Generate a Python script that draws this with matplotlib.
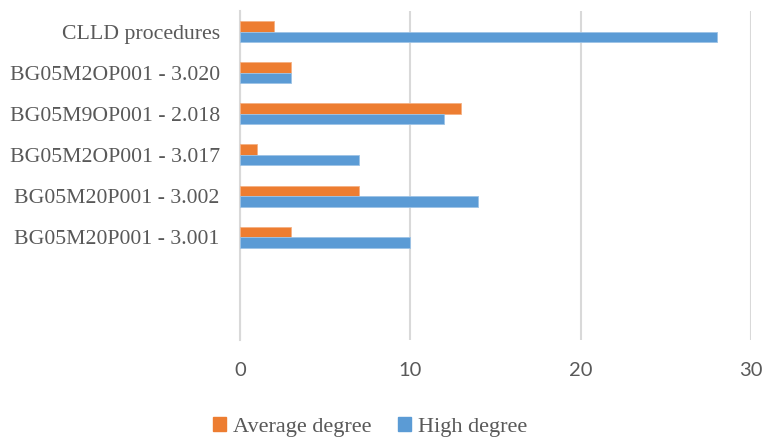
import numpy as np
import matplotlib
matplotlib.use("Agg")
import matplotlib.pyplot as plt
from matplotlib.patches import Patch

# data, top to bottom
categories = ["CLLD procedures", "BG05M2OP001 - 3.020", "BG05M9OP001 - 2.018",
              "BG05M2OP001 - 3.017", "BG05M20P001 - 3.002", "BG05M20P001 - 3.001"]
average = [2, 3, 13, 1, 7, 3]
high = [28, 3, 12, 7, 14, 10]
xticks = [0, 10, 20, 30]
n_slots = 8  # the original axis leaves two empty category slots below

orange = "#ED7D31"
blue = "#5B9BD5"
txt = "#595959"
serif = ["Liberation Serif", "DejaVu Serif"]

fig = plt.figure(figsize=(7.64, 4.38), dpi=100)
ax = fig.add_axes([240/764, 1-340/438, (751-240)/764, (340-11)/438])

y = np.arange(len(categories))
h = 0.255
ax.barh(y - h/2, average, height=h, color=orange, edgecolor="#F4B183", linewidth=0.6, zorder=3)
ax.barh(y + h/2, high, height=h, color=blue, edgecolor="#9DC3E6", linewidth=0.6, zorder=3)

ax.set_ylim(n_slots - 0.5, -0.5)
ax.set_xlim(0, 30)
ax.set_xticks(xticks)
ax.set_xticklabels([str(t) for t in xticks], fontfamily="Lato", fontsize=14.5, color=txt)
ax.set_yticks(y)
ax.set_yticklabels(categories, fontfamily=serif, fontsize=15.7, color=txt)
ax.tick_params(axis="both", length=0)
ax.tick_params(axis="x", pad=16)
ax.tick_params(axis="y", pad=14.5)

ax.grid(axis="x", color="#D9D9D9", linewidth=1.5, zorder=0)
for s in ["top", "right", "bottom"]:
    ax.spines[s].set_visible(False)
ax.spines["left"].set_color("#D9D9D9")
ax.spines["left"].set_linewidth(1.5)

handles = [Patch(color=orange, label="Average degree"), Patch(color=blue, label="High degree")]
fig.legend(handles=handles, loc="center", bbox_to_anchor=(370/764, 1-427/438), ncol=2,
           frameon=False, prop={"family": serif, "size": 16}, labelcolor=txt,
           handlelength=0.6, handleheight=0.6, handletextpad=0.3, columnspacing=1.2)

fig.savefig("out.png", dpi=100)
